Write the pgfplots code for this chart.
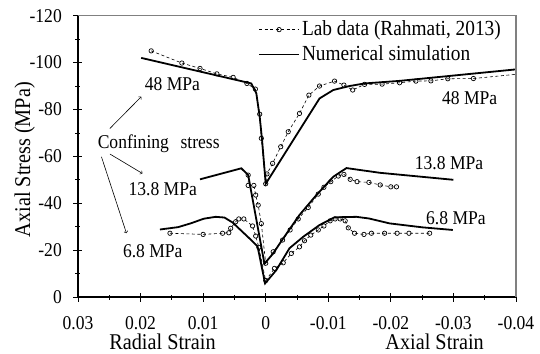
\documentclass[border=0pt]{standalone}
\usepackage{fontspec}
\setmainfont{Liberation Serif}[FakeStretch=0.9]
\usepackage{pgfplots}
\pgfplotsset{compat=1.18}
\begin{document}
\fontsize{19.5}{23}\selectfont
\begin{tikzpicture}
\begin{axis}[
  width=438pt, height=281.3pt, scale only axis,
  xmin=-0.04, xmax=0.03, ymin=-120, ymax=0,
  x dir=reverse, y dir=reverse,
  axis x line*=bottom, axis y line*=left,
  axis line style={line width=1.2pt, -},
  scaled x ticks=false, scaled y ticks=false,
  xtick={0.03,0.02,0.01,0,-0.01,-0.02,-0.03,-0.04},
  xticklabels={0.03,0.02,0.01,0,-0.01,-0.02,-0.03,-0.04},
  ytick={0,-20,-40,-60,-80,-100,-120},
  yticklabels={0,-20,-40,-60,-80,-100,-120},
  minor x tick num=1, minor y tick num=1,
  tick align=center, major tick length=9pt, minor tick length=5pt,
  tick style={black, line width=0.8pt},
  xticklabel style={yshift=-8pt},
  yticklabel style={xshift=-5pt},
  clip=false,
  legend cell align=left,
  legend style={draw=none, fill=none, at={(0.411,0.99)}, anchor=north west,
    inner sep=0pt, row sep=3pt, column sep=0pt, nodes={inner sep=2pt},
    font=\fontsize{21.5}{25}\selectfont},
  legend image code/.code={\draw[mark repeat=2,mark phase=2,#1] plot coordinates {(0pt,0pt) (20pt,0pt) (40pt,0pt)};},
  lab/.style={black, line width=0.6pt, dash pattern=on 3pt off 2.5pt, mark=o, mark size=2.2pt, mark options={solid, line width=0.7pt}},
  sim/.style={black, line width=1.8pt, no marks},
]
% 48 MPa lab
\addplot[lab] coordinates {
(0.0183,-105.0) (0.0134,-99.8) (0.0105,-97.5) (0.0078,-95.2) (0.0052,-93.7) (0.0030,-91.1)
(0.00165,-88.7) (0.00096,-78.0) (0.0007,-67.7) (0.0,-48.3) (-0.0002,-52.5) (-0.0011,-57.0)
(-0.0024,-64.1) (-0.0036,-70.5) (-0.0054,-78.3) (-0.0069,-86.1) (-0.0086,-90.0) (-0.0110,-92.1)
(-0.0125,-90.4) (-0.0139,-88.3) (-0.0158,-90.7) (-0.0186,-90.8) (-0.0214,-91.4) (-0.0240,-92.1)
(-0.0264,-92.2) (-0.0291,-93.1) (-0.0332,-93.2)
};
\addlegendentry{Lab data (Rahmati, 2013)}
% 48 MPa simulation
\addplot[sim] coordinates {
(0.0199,-102.0) (0.0023,-91.1) (0.0015,-86.9) (0.00096,-76.9) (0.0006,-67.5) (0.0,-48.3)
(-0.0086,-84.7) (-0.0108,-88.3) (-0.0134,-90.0) (-0.0158,-91.1) (-0.0214,-92.2) (-0.04,-97.1)
};
\addlegendentry{Numerical simulation}
\addplot[black, line width=0.6pt, dash pattern=on 3pt off 2.5pt, forget plot] coordinates {(-0.0332,-93.2) (-0.04,-95.0)};
% 13.8 MPa
\addplot[sim, forget plot] coordinates {
(0.0105,-50.2) (0.0039,-54.9) (0.0028,-52.0) (0.0002,-14.2) (-0.0012,-18.6) (-0.0028,-25.0)
(-0.0054,-35.0) (-0.0081,-43.5) (-0.0108,-51.3) (-0.0129,-55.0) (-0.0182,-53.0) (-0.0300,-50.0)
};
\addplot[lab, forget plot] coordinates {
(0.0028,-52.0) (0.0028,-47.6) (0.0019,-47.6) (0.0016,-43.5) (0.0012,-39.2) (0.0007,-31.3)
(0.0,-14.4) (-0.0012,-19.3) (-0.0027,-24.3) (-0.0039,-28.6) (-0.0052,-33.3) (-0.0068,-38.2)
(-0.0084,-43.9) (-0.0093,-46.8) (-0.0104,-49.2) (-0.0116,-51.6) (-0.0125,-52.3) (-0.0135,-50.2)
(-0.0146,-49.2) (-0.0165,-48.9) (-0.0183,-47.8) (-0.0200,-47.0) (-0.0209,-47.0)
};
% 6.8 MPa
\addplot[sim, forget plot] coordinates {
(0.0169,-28.8) (0.0140,-29.8) (0.0120,-31.4) (0.0099,-33.4) (0.0080,-34.2) (0.0066,-33.9) (0.0053,-31.8) (0.0026,-25.0)
(0.0013,-21.6) (0.0001,-5.8) (-0.0017,-11.5) (-0.0038,-20.8) (-0.0060,-25.7) (-0.0086,-30.7)
(-0.0110,-34.0) (-0.0145,-34.2) (-0.0165,-33.5) (-0.0198,-31.4) (-0.0251,-29.7) (-0.0299,-28.6)
};
\addplot[lab, forget plot] coordinates {
(0.0153,-27.2) (0.0100,-26.7) (0.0069,-27.2) (0.0059,-27.4) (0.0056,-29.3) (0.0048,-32.1)
(0.0043,-33.3) (0.0035,-33.3) (0.0021,-30.3) (0.0016,-26.0) (0.0011,-21.2) (0.0,-7.0)
(-0.0014,-12.2) (-0.0028,-14.6) (-0.0041,-18.6) (-0.0054,-21.4) (-0.0062,-24.0) (-0.0072,-26.4)
(-0.0084,-28.6) (-0.0093,-30.3) (-0.0103,-32.5) (-0.0111,-33.3) (-0.0119,-33.3) (-0.0127,-32.5)
(-0.0132,-29.5) (-0.0142,-27.2) (-0.0157,-26.7) (-0.0169,-27.2) (-0.0190,-27.2) (-0.0210,-27.2)
(-0.0229,-27.2) (-0.0262,-27.2)
};
% frame top/right
\draw[gray, line width=1.2pt] (axis description cs:0,1) -- (axis description cs:1,1) -- (axis description cs:1,0);
% annotations
\node[anchor=base] at (axis cs:0.0149,-88.0) {48 MPa};
\node[anchor=base] at (axis cs:-0.0326,-82.3) {48 MPa};
\node[anchor=base] at (axis cs:0.0171,-63.4) {Confining\hspace{0.6em}stress};
\node[anchor=base] at (axis cs:0.01645,-43.2) {13.8 MPa};
\node[anchor=base] at (axis cs:0.01805,-16.9) {6.8 MPa};
\node[anchor=base] at (axis cs:-0.0293,-54.4) {13.8 MPa};
\node[anchor=base] at (axis cs:-0.0304,-31.1) {6.8 MPa};
\draw[->, line width=0.6pt] (axis cs:0.0249,-71.9) -- (axis cs:0.0199,-85.4);
\draw[->, line width=0.6pt] (axis cs:0.0249,-61.0) -- (axis cs:0.0197,-52.7);
\draw[->, line width=0.6pt] (axis cs:0.02625,-59.8) -- (axis cs:0.02225,-27.2);
\node[anchor=base, font=\fontsize{22.5}{26}\selectfont] at (axis cs:0.0165,22.3) {Radial Strain};
\node[anchor=base, font=\fontsize{22.5}{26}\selectfont] at (axis cs:-0.0270,22.3) {Axial Strain};
\node[rotate=90, font=\fontsize{22.5}{26}\selectfont] at (axis cs:0.0385,-58.6) {Axial Stress (MPa)};
\end{axis}
\pgfresetboundingbox
\path (-78pt,-56pt) rectangle (462pt,297pt);
\end{tikzpicture}
\end{document}
